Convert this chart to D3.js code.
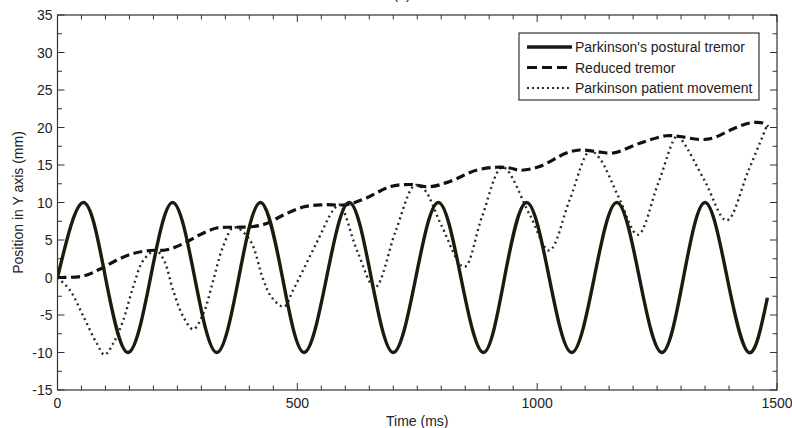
<!DOCTYPE html>
<html>
<head>
<meta charset="utf-8">
<script src="https://cdn.jsdelivr.net/npm/d3@7"></script>
<style>
  body { margin: 0; background: #fff; }
  text { font-family: "Liberation Sans", Arial, sans-serif; fill: #222; }
</style>
</head>
<body>
<div id="chart"></div>
<script>
// Parkinson's postural tremor (solid) - peaks, troughs, zero crossings
let tremorTime = [0, 54, 100, 147, 194, 240, 286, 332, 378, 423, 469, 514, 561, 608, 654, 700,
  747, 794, 841, 888, 932, 978, 1025, 1072, 1119, 1166, 1213, 1260, 1305, 1350, 1396, 1441, 1480];
let tremorPos = [0, 10, 0, -10, 0, 10, 0, -10, 0, 10, 0, -10, 0, 10, 0, -10,
  0, 10, 0, -10, 0, 10, 0, -10, 0, 10, 0, -10, 0, 10, 0, -10, -2.7];

// Reduced tremor (dashed)
let reducedTime = [0, 54, 88, 123, 158, 193, 228, 262, 297, 332, 373, 408, 436, 470, 512, 554, 602,
  644, 693, 734, 776, 818, 873, 915, 943, 964, 1005, 1061, 1089, 1123, 1158, 1214, 1269, 1297,
  1339, 1367, 1408, 1443, 1470, 1481];
let reducedPos = [0, 0.2, 1.1, 2.3, 3.2, 3.6, 3.7, 4.5, 5.7, 6.6, 6.7, 6.8, 7.2, 8.3, 9.4, 9.7, 9.7,
  10.6, 12.1, 12.4, 12.1, 12.8, 14.3, 14.7, 14.6, 14.3, 14.8, 16.6, 17.0, 16.8, 16.6, 17.9, 18.9, 18.8,
  18.4, 18.6, 19.8, 20.6, 20.6, 20.1];

// Parkinson patient movement (dotted)
let moveTime = [0, 26, 54, 82, 98, 116, 137, 158, 179, 205, 222, 241, 262, 283, 304, 325, 345, 368,
  401, 429, 446, 472, 491, 540, 575, 588, 625, 662, 705, 745, 765, 800, 848, 885, 928, 985, 1025,
  1068, 1110, 1130, 1170, 1210, 1252, 1292, 1304, 1350, 1395, 1440, 1480];
let movePos = [0, -1.7, -5.2, -8.8, -10.3, -8.8, -5.7, -1.2, 2.3, 3.6, 2.3, -1.7, -5.2, -6.9, -4.8, -0.3, 4.1, 6.7,
  5.0, -0.3, -2.6, -3.9, -1.7, 4.6, 9.0, 9.7, 3.5, -1.3, 6.2, 12.3, 11.7, 7.0, 1.4, 8.1, 14.7, 8.3, 3.6,
  10.4, 16.9, 15.9, 10.7, 5.7, 12.5, 18.9, 18.1, 12.8, 7.6, 14.2, 20.4];

let xTicks = [0, 500, 1000, 1500];
let yTicks = [-15, -10, -5, 0, 5, 10, 15, 20, 25, 30, 35];

let legendNames = ["Parkinson's postural tremor", "Reduced tremor", "Parkinson patient movement"];

let width = 792, height = 428;
let margin = {top: 15, right: 15, bottom: 38, left: 57.5};
let plotW = width - margin.left - margin.right;
let plotH = height - margin.top - margin.bottom;

let svg = d3.select("#chart")
  .append("svg")
  .attr("width", width)
  .attr("height", height);

let g = svg.append("g")
  .attr("transform", `translate(${margin.left},${margin.top})`);

let x = d3.scaleLinear().domain([0, 1500]).range([0, plotW]);
let y = d3.scaleLinear().domain([-15, 35]).range([plotH, 0]);

// title, mostly cut off at the top
svg.append("text")
  .attr("x", 402)
  .attr("y", -1)
  .style("text-anchor", "middle")
  .style("font-size", "14px")
  .text("(a)");

// minor / major ticks, pointing inward on all four sides
let xMinor = d3.range(0, 1501, 50);
let yMinor = d3.range(-15, 35.1, 2.5);

let ticks = g.append("g").attr("stroke", "#333").attr("stroke-width", 1);
xMinor.forEach(function(t) {
  let len = xTicks.includes(t) ? 7 : 4.5;
  ticks.append("line").attr("x1", x(t)).attr("x2", x(t)).attr("y1", plotH).attr("y2", plotH - len);
  ticks.append("line").attr("x1", x(t)).attr("x2", x(t)).attr("y1", 0).attr("y2", len);
});
yMinor.forEach(function(v) {
  let len = yTicks.includes(v) ? 7 : 4.5;
  ticks.append("line").attr("x1", 0).attr("x2", len).attr("y1", y(v)).attr("y2", y(v));
  ticks.append("line").attr("x1", plotW).attr("x2", plotW - len).attr("y1", y(v)).attr("y2", y(v));
});

// tick labels
g.selectAll(".xlab").data(xTicks).enter()
  .append("text")
  .attr("x", function(d) { return x(d); })
  .attr("y", plotH + 18)
  .style("text-anchor", "middle")
  .style("font-size", "14px")
  .text(function(d) { return d; });

g.selectAll(".ylab").data(yTicks).enter()
  .append("text")
  .attr("x", -5)
  .attr("y", function(d) { return y(d); })
  .attr("dy", "0.36em")
  .style("text-anchor", "end")
  .style("font-size", "14px")
  .text(function(d) { return d; });

// axis titles
g.append("text")
  .attr("x", plotW / 2)
  .attr("y", plotH + 36)
  .style("text-anchor", "middle")
  .style("font-size", "14px")
  .text("Time (ms)");

g.append("text")
  .attr("transform", `translate(${-35},${plotH / 2}) rotate(-90)`)
  .style("text-anchor", "middle")
  .style("font-size", "14px")
  .text("Position in Y axis (mm)");

// lines
let clip = g.append("clipPath").attr("id", "clip")
  .append("rect").attr("width", plotW).attr("height", plotH);

let lines = g.append("g").attr("clip-path", "url(#clip)");

function pairs(ts, vs) {
  return ts.map(function(t, i) { return [t, vs[i]]; });
}

let smooth = d3.line()
  .x(function(d) { return x(d[0]); })
  .y(function(d) { return y(d[1]); })
  .curve(d3.curveNatural);

let rounded = d3.line()
  .x(function(d) { return x(d[0]); })
  .y(function(d) { return y(d[1]); })
  .curve(d3.curveCatmullRom.alpha(0.5));

lines.append("path")
  .attr("d", rounded(pairs(moveTime, movePos)))
  .attr("fill", "none")
  .attr("stroke", "#2a2a2a")
  .attr("stroke-width", 2.4)
  .attr("stroke-dasharray", "2,3.5");

lines.append("path")
  .attr("d", rounded(pairs(reducedTime, reducedPos)))
  .attr("fill", "none")
  .attr("stroke", "#111")
  .attr("stroke-width", 3.2)
  .attr("stroke-dasharray", "9,4.5");

lines.append("path")
  .attr("d", smooth(pairs(tremorTime, tremorPos)))
  .attr("fill", "none")
  .attr("stroke", "#1c1c0e")
  .attr("stroke-width", 3.4);

// axes box
g.append("rect")
  .attr("width", plotW)
  .attr("height", plotH)
  .attr("fill", "none")
  .attr("stroke", "#333")
  .attr("stroke-width", 1.2);

// legend
let legend = svg.append("g").attr("transform", "translate(519,33)");
legend.append("rect")
  .attr("width", 240)
  .attr("height", 67)
  .attr("fill", "#fff")
  .attr("stroke", "#333")
  .attr("stroke-width", 1.2);

let legendStyles = [
  {dash: null, w: 3.4, c: "#1c1c0e"},
  {dash: "10,5", w: 3.2, c: "#111"},
  {dash: "2,3", w: 2.2, c: "#2a2a2a"}
];

legendNames.forEach(function(name, i) {
  let ly = 14 + i * 20.5;
  let line = legend.append("line")
    .attr("x1", 8).attr("x2", 53)
    .attr("y1", ly).attr("y2", ly)
    .attr("stroke", legendStyles[i].c)
    .attr("stroke-width", legendStyles[i].w);
  if (legendStyles[i].dash) line.attr("stroke-dasharray", legendStyles[i].dash);
  legend.append("text")
    .attr("x", 56)
    .attr("y", ly)
    .attr("dy", "0.36em")
    .style("font-size", "14px")
    .text(name);
});
</script>
</body>
</html>
